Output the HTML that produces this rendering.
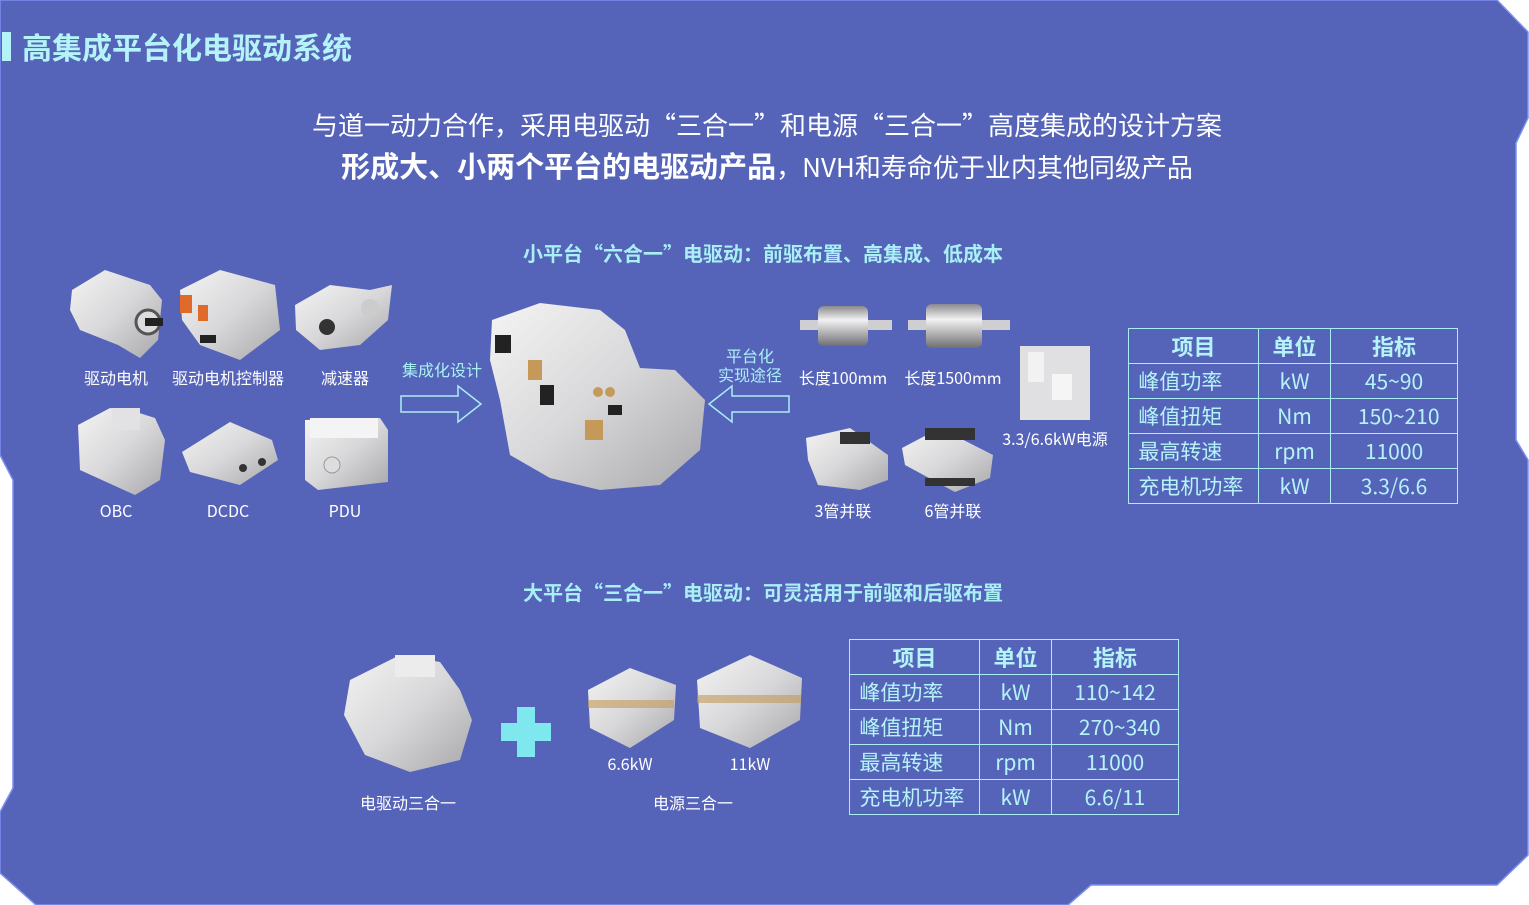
<!DOCTYPE html>
<html><head><meta charset="utf-8"><style>
html,body{margin:0;padding:0;background:#fff;}
body{width:1529px;height:905px;position:relative;overflow:hidden;font-family:"Noto Sans CJK SC","Liberation Sans",sans-serif;}
.t{position:absolute;white-space:nowrap;transform:translateX(-50%);line-height:1;}
.w{color:#fff;font-size:15px;}
.c{color:#a9f0f6;}
table{position:absolute;border-collapse:collapse;color:#b4f4f8;font-size:21px;}
td{border:1px solid #a9eef5;height:34px;padding:0;line-height:34px;}
th{border:1px solid #a9eef5;height:34px;padding:0;font-weight:bold;font-size:22px;line-height:34px;}
</style></head><body>
<svg width="1529" height="905" style="position:absolute;left:0;top:0">
<defs>
<linearGradient id="g" x1="0" y1="0" x2="1" y2="1"><stop offset="0" stop-color="#f4f4f4"/><stop offset="0.5" stop-color="#d8d8da"/><stop offset="1" stop-color="#a8a8ac"/></linearGradient>
<linearGradient id="r" x1="0" y1="0" x2="0" y2="1"><stop offset="0" stop-color="#8a8a8e"/><stop offset="0.35" stop-color="#f2f2f2"/><stop offset="1" stop-color="#707074"/></linearGradient>
</defs>
<polygon points="0,0 1497,0 1528,32 1528,118 1516,143 1516,440 1528,460 1528,855 1497,885 1091,885 1068,905 36,905 0,873 0,812 13,788 13,480 0,455" fill="#5564b8" stroke="#7d8ff0" stroke-width="1.5"/>
<rect x="2" y="32" width="9" height="29" fill="#b4f4f8"/>
<path d="M72,290 L105,270 L150,285 L162,300 L158,340 L140,358 L118,345 L80,330 L70,310Z" fill="url(#g)"/>
<circle cx="148" cy="322" r="12" fill="#ddd" stroke="#555" stroke-width="3"/><rect x="145" y="318" width="18" height="8" fill="#222"/>
<path d="M180,290 L220,270 L275,285 L280,330 L240,360 L200,345 L182,320Z" fill="url(#g)"/>
<rect x="180" y="295" width="12" height="18" fill="#e06a2a"/><rect x="198" y="305" width="10" height="16" fill="#e06a2a"/><rect x="200" y="335" width="16" height="8" fill="#222"/>
<path d="M295,305 L330,285 L370,290 L392,285 L388,320 L360,345 L320,350 L296,330Z" fill="url(#g)"/>
<circle cx="327" cy="327" r="8" fill="#333"/><circle cx="370" cy="308" r="9" fill="#ccc"/>
<path d="M78,425 L110,408 L130,410 L155,418 L165,440 L160,480 L135,495 L80,470Z" fill="url(#g)"/>
<rect x="112" y="408" width="28" height="22" fill="#e2e2e4"/>
<path d="M182,452 L230,422 L272,440 L278,460 L240,485 L190,472Z" fill="url(#g)"/>
<circle cx="243" cy="468" r="4" fill="#333"/><circle cx="262" cy="462" r="4" fill="#333"/>
<path d="M305,420 L380,418 L388,430 L388,482 L318,490 L305,480Z" fill="url(#g)"/>
<rect x="310" y="418" width="68" height="20" fill="#f4f4f4"/><circle cx="332" cy="465" r="8" fill="#ddd" stroke="#999"/>
<path d="M401,396 L458,396 L458,386 L481,404 L458,422 L458,412 L401,412Z" fill="none" stroke="#a9eef5" stroke-width="1.5"/>
<path d="M789,396 L732,396 L732,386 L709,404 L732,422 L732,412 L789,412Z" fill="none" stroke="#a9eef5" stroke-width="1.5"/>
<path d="M492,320 L540,303 L600,310 L625,330 L640,368 L675,370 L705,400 L700,450 L660,485 L600,490 L550,478 L510,455 L500,400 L490,360Z" fill="url(#g)"/>
<rect x="495" y="335" width="16" height="18" fill="#222"/><rect x="540" y="385" width="14" height="20" fill="#222"/><rect x="528" y="360" width="14" height="20" fill="#c59a58"/><rect x="585" y="420" width="18" height="20" fill="#c59a58"/><circle cx="598" cy="392" r="5" fill="#c59a58"/><circle cx="610" cy="392" r="5" fill="#c59a58"/><rect x="608" y="405" width="14" height="10" fill="#222"/>
<rect x="800" y="320" width="92" height="10" fill="#cfcfd2"/><rect x="818" y="306" width="50" height="40" rx="6" fill="url(#r)"/>
<rect x="908" y="320" width="102" height="10" fill="#cfcfd2"/><rect x="926" y="304" width="56" height="44" rx="6" fill="url(#r)"/>
<rect x="1020" y="346" width="70" height="74" fill="#e0e0e2"/><rect x="1028" y="352" width="16" height="30" fill="#f2f2f2"/><rect x="1052" y="374" width="20" height="26" fill="#f5f5f5"/>
<path d="M806,438 L850,428 L888,455 L888,480 L860,490 L818,485 L808,460Z" fill="url(#g)"/><rect x="840" y="432" width="30" height="12" fill="#333"/>
<path d="M902,448 L940,428 L993,455 L990,478 L955,492 L905,465Z" fill="url(#g)"/><rect x="925" y="428" width="50" height="12" fill="#333"/><rect x="925" y="478" width="50" height="8" fill="#333"/>
<path d="M350,680 L400,655 L440,662 L460,690 L472,720 L460,760 L410,772 L365,755 L344,715Z" fill="url(#g)"/>
<rect x="395" y="655" width="40" height="22" fill="#ececec"/>
<rect x="517" y="707" width="18" height="50" fill="#7fe8ee"/><rect x="501" y="723" width="50" height="18" fill="#7fe8ee"/>
<path d="M588,690 L630,668 L676,685 L674,720 L630,748 L590,728Z" fill="url(#g)"/><rect x="588" y="700" width="86" height="8" fill="#c59a58" opacity="0.6"/>
<path d="M697,680 L750,655 L802,678 L800,720 L750,748 L700,728Z" fill="url(#g)"/><rect x="697" y="695" width="104" height="8" fill="#c59a58" opacity="0.6"/>
</svg>
<div style="position:absolute;left:22px;top:28px;font-size:30px;font-weight:bold;color:#b4f4f8;line-height:1.2;white-space:nowrap">高集成平台化电驱动系统</div>
<div class="t" style="left:767px;top:112px;font-size:26px;color:#fff">与道一动力合作，采用电驱动“三合一”和电源“三合一”高度集成的设计方案</div>
<div class="t" style="left:767px;top:151px;font-size:26px;color:#fff"><b style="font-size:29px">形成大、小两个平台的电驱动产品</b>，NVH和寿命优于业内其他同级产品</div>
<div class="t c" style="left:763px;top:243px;font-size:20px;font-weight:bold">小平台“六合一”电驱动：前驱布置、高集成、低成本</div>
<div class="t c" style="left:763px;top:582px;font-size:20px;font-weight:bold">大平台“三合一”电驱动：可灵活用于前驱和后驱布置</div>
<div class="t w" style="left:116px;top:369px;font-size:16px">驱动电机</div>
<div class="t w" style="left:228px;top:369px;font-size:16px">驱动电机控制器</div>
<div class="t w" style="left:345px;top:369px;font-size:16px">减速器</div>
<div class="t w" style="left:116px;top:502px;font-size:16px">OBC</div>
<div class="t w" style="left:228px;top:502px;font-size:16px">DCDC</div>
<div class="t w" style="left:345px;top:502px;font-size:16px">PDU</div>
<div class="t c" style="left:442px;top:361px;font-size:16px">集成化设计</div>
<div class="t c" style="left:750px;top:347px;font-size:16px">平台化</div>
<div class="t c" style="left:750px;top:366px;font-size:16px">实现途径</div>
<div class="t w" style="left:843px;top:369px;font-size:16px">长度100mm</div>
<div class="t w" style="left:953px;top:369px;font-size:16px">长度1500mm</div>
<div class="t w" style="left:1055px;top:430px;font-size:16px">3.3/6.6kW电源</div>
<div class="t w" style="left:843px;top:502px;font-size:16px">3管并联</div>
<div class="t w" style="left:953px;top:502px;font-size:16px">6管并联</div>
<div class="t w" style="left:408px;top:794px;font-size:16px">电驱动三合一</div>
<div class="t w" style="left:630px;top:755px;font-size:16px">6.6kW</div>
<div class="t w" style="left:750px;top:755px;font-size:16px">11kW</div>
<div class="t w" style="left:693px;top:794px;font-size:16px">电源三合一</div>
<table style="left:1128px;top:328px;width:330px">
<tr><th style="width:129px">项目</th><th style="width:71px">单位</th><th>指标</th></tr>
<tr><td>&nbsp;&nbsp;峰值功率</td><td style="text-align:center">kW</td><td style="text-align:center">45~90</td></tr>
<tr><td>&nbsp;&nbsp;峰值扭矩</td><td style="text-align:center">Nm</td><td style="text-align:center">&nbsp;&nbsp;150~210</td></tr>
<tr><td>&nbsp;&nbsp;最高转速</td><td style="text-align:center">rpm</td><td style="text-align:center">11000</td></tr>
<tr><td>&nbsp;&nbsp;充电机功率</td><td style="text-align:center">kW</td><td style="text-align:center">3.3/6.6</td></tr>
</table>
<table style="left:849px;top:639px;width:330px">
<tr><th style="width:129px">项目</th><th style="width:71px">单位</th><th>指标</th></tr>
<tr><td>&nbsp;&nbsp;峰值功率</td><td style="text-align:center">kW</td><td style="text-align:center">110~142</td></tr>
<tr><td>&nbsp;&nbsp;峰值扭矩</td><td style="text-align:center">Nm</td><td style="text-align:center">&nbsp;&nbsp;270~340</td></tr>
<tr><td>&nbsp;&nbsp;最高转速</td><td style="text-align:center">rpm</td><td style="text-align:center">11000</td></tr>
<tr><td>&nbsp;&nbsp;充电机功率</td><td style="text-align:center">kW</td><td style="text-align:center">6.6/11</td></tr>
</table>
</body></html>
